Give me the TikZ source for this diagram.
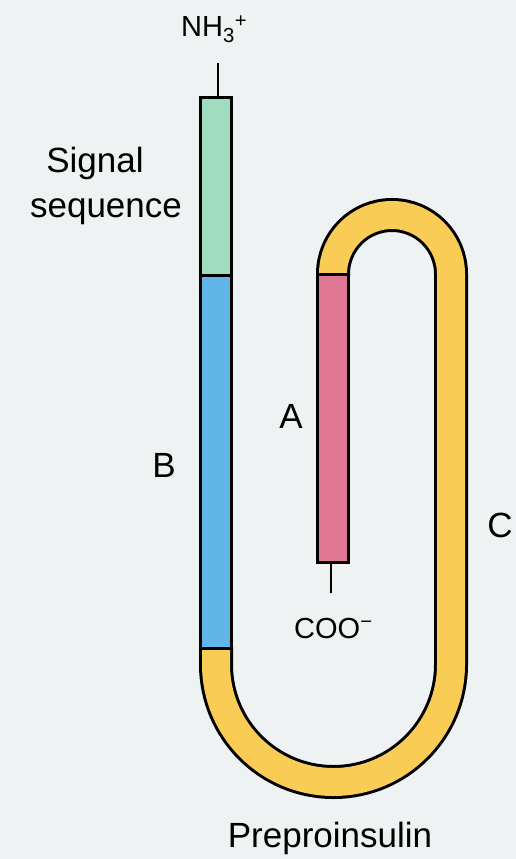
\documentclass[tikz,border=0pt]{standalone}
\usepackage{fontspec}
\setmainfont{Liberation Sans}
\definecolor{bgc}{HTML}{EEF2F2}
\definecolor{greenc}{HTML}{A0DCC0}
\definecolor{bluec}{HTML}{62B5E8}
\definecolor{pinkc}{HTML}{E07795}
\definecolor{yellowc}{HTML}{F9CC55}
\begin{document}
\begin{tikzpicture}[x=1pt,y=1pt,
  outline/.style={draw=black, line width=3pt},
  lbl/.style={font=\fontsize{35}{40}\selectfont, inner sep=0pt, anchor=base},
  small/.style={font=\fontsize{29}{34}\selectfont, inner sep=0pt, anchor=base west},
  tick/.style={draw=black, line width=2pt}]
\fill[bgc] (0,0) rectangle (516,-859);
\useasboundingbox (0,0) rectangle (516,-859);
% yellow C-peptide band
\draw[line width=34pt, black] (216,-646) -- (216,-664.5) arc[start angle=180,end angle=360,radius=117.5] -- (451,-274) arc[start angle=0,end angle=180,radius=59] -- (333,-276);
\draw[line width=28pt, yellowc] (216,-646) -- (216,-664.5) arc[start angle=180,end angle=360,radius=117.5] -- (451,-274) arc[start angle=0,end angle=180,radius=59] -- (333,-276);
% segments
\filldraw[fill=greenc, outline] (200.5,-97) rectangle (231.5,-275);
\filldraw[fill=bluec, outline] (200.5,-275) rectangle (231.5,-648);
\filldraw[fill=pinkc, outline] (317.5,-274) rectangle (348.5,-562);
% termini
\coordinate (ntop) at (218,-63);
\coordinate (nend) at (218,-97);
\draw[tick] (ntop) -- (nend);
\coordinate (ctop) at (331,-562);
\coordinate (cend) at (331,-593);
\draw[tick] (ctop) -- (cend);
% labels
\node[small] (nh3) at (181,-37) {NH\textsubscript{3}\textsuperscript{+}};
\node[small] (coo) at (294,-638) {COO\textsuperscript{−}};
\node[lbl] (sig1) at (95,-172) {Signal};
\node[lbl] (sig2) at (106,-217) {sequence};
\node[lbl] (labB) at (164,-477) {B};
\node[lbl] (labA) at (291,-428) {A};
\node[lbl] (labC) at (500,-537) {C};
\node[lbl] (title) at (330,-847) {Preproinsulin};
\end{tikzpicture}
\end{document}
